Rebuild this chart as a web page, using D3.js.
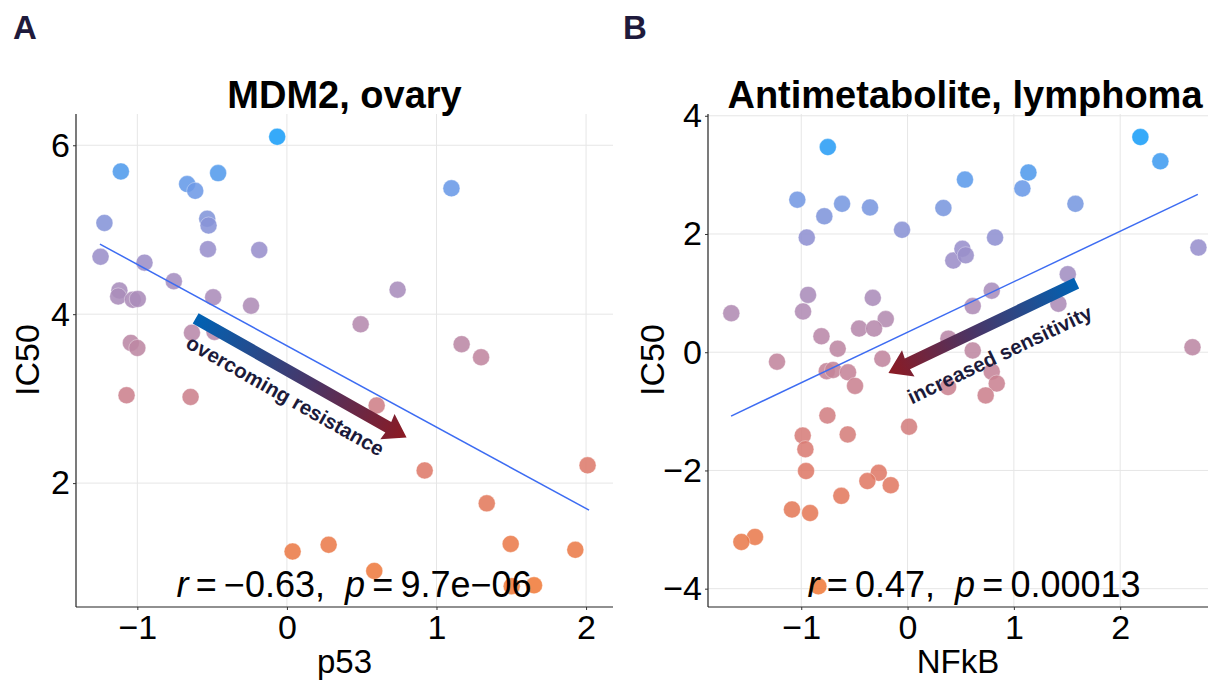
<!DOCTYPE html>
<html>
<head>
<meta charset="utf-8">
<script src="https://cdn.jsdelivr.net/npm/d3@7"></script>
<style>
  body { margin: 0; background: #fff; }
  svg { font-family: "Liberation Sans", Arial, Helvetica, sans-serif; }
</style>
</head>
<body>
<div id="chart"></div>
<script>
// ── Panel A: MDM2, ovary ───────────────────────────────
var p53 = [-0.065, -1.11, -0.46, -0.667, -0.613, -1.22, -0.533, -0.524, -0.528, -0.185,
  -1.246, -0.952, -0.756, -1.12, -1.128, -1.03, -0.997, -0.493, -0.24, -0.635,
  -0.484, -1.043, -1.0, -1.072, -0.644, 0.038, 0.279, 1.10, 0.74, 0.493,
  1.168, 1.298, 0.60, 0.921, 2.01, 1.336, 0.584, 1.496, 1.928, 1.503, 1.652];
var ic50A = [6.10, 5.69, 5.67, 5.54, 5.46, 5.08, 5.13, 5.05, 4.77, 4.76,
  4.68, 4.61, 4.39, 4.28, 4.21, 4.17, 4.18, 4.20, 4.10, 3.78,
  3.79, 3.66, 3.60, 3.04, 3.02, 1.19, 1.27, 5.49, 4.29, 3.88,
  3.645, 3.49, 2.92, 2.15, 2.21, 1.76, 0.96, 1.28, 1.21, 0.78, 0.79];
var fitA = [[-1.25, 4.83], [2.02, 1.68]];
var arrowA = [[-0.61, 3.95], [0.80, 2.54]];
var statsA = ["−0.63", "9.7e−06"];

// ── Panel B: Antimetabolite, lymphoma ─────────────────
var nfkb = [-0.75, -1.037, -0.616, -0.783, -0.353, 0.337, -0.948, -0.052, -1.658, -0.936,
  -0.983, -0.327, -0.205, -0.456, -0.315, -0.81, -0.657, 0.43, 0.516, 0.54,
  1.137, 1.08, 1.579, 2.19, 2.378, 0.823, 0.547, 2.736, 1.507, 0.792,
  0.613, 1.419, 0.384, 0.613, 2.68, -1.228, -0.76, -0.70, -0.56, -0.237,
  -0.494, -0.754, -0.563, 0.014, -0.986, -0.961, -0.955, -0.271, -0.378, -0.158,
  -0.623, -1.087, -0.917, -1.435, -1.563, -0.839, 0.381, 0.792, 0.839, 0.735];
var ic50B = [3.47, 2.58, 2.51, 2.30, 2.45, 2.44, 1.94, 2.07, 0.66, 0.97,
  0.69, 0.92, 0.56, 0.40, 0.40, 0.27, 0.06, 1.55, 1.75, 2.92,
  3.04, 2.77, 2.51, 3.64, 3.23, 1.94, 1.64, 1.77, 1.32, 1.04,
  0.78, 0.82, 0.23, 0.03, 0.085, -0.16, -0.32, -0.30, -0.34, -0.11,
  -0.57, -1.07, -1.39, -1.26, -1.41, -1.64, -2.01, -2.04, -2.18, -2.25,
  -2.43, -2.66, -2.72, -3.125, -3.21, -3.96, -0.59, -0.33, -0.53, -0.73];
var fitB = [[-1.66, -1.08], [2.73, 2.67]];
var arrowB = [[1.59, 1.17], [-0.18, -0.35]];
var statsB = ["0.47", "0.00013"];

var W = 1210, H = 680;
var svg = d3.select("#chart").append("svg").attr("width", W).attr("height", H);

// point colour: orange (low IC50) -> mauve -> blue (high IC50)
var colStops = [0, 0.25, 0.45, 0.6, 0.75, 0.88, 1];
var colVals = ["#f07b3a", "#df7a68", "#c98292", "#b28bb2", "#988fcc", "#6e9ae6", "#1a9ef8"];
var fmt = d3.format("d");

function drawPanel(cfg) {
  var g = svg.append("g");
  var x = d3.scaleLinear().domain(cfg.xDomain).range([cfg.left, cfg.right]);
  var y = d3.scaleLinear().domain(cfg.yDomain).range([cfg.bottom, cfg.top]);

  // panel letter + title
  svg.append("text").attr("x", cfg.letterX).attr("y", 39)
    .attr("font-size", 33).attr("font-weight", "bold").attr("fill", "#1e1a3c")
    .text(cfg.letter);
  svg.append("text").attr("x", (cfg.left + cfg.right) / 2 + cfg.titleShift).attr("y", 108)
    .attr("text-anchor", "middle").attr("font-size", 38).attr("font-weight", "bold")
    .attr("fill", "#000").text(cfg.title);

  // grid
  g.selectAll(".gx").data(cfg.xTicks).join("line")
    .attr("x1", function (d) { return x(d); }).attr("x2", function (d) { return x(d); })
    .attr("y1", cfg.top).attr("y2", cfg.bottom)
    .attr("stroke", "#e6e6e6").attr("stroke-width", 1);
  g.selectAll(".gy").data(cfg.yTicks).join("line")
    .attr("y1", function (d) { return y(d); }).attr("y2", function (d) { return y(d); })
    .attr("x1", cfg.left).attr("x2", cfg.right)
    .attr("stroke", "#e6e6e6").attr("stroke-width", 1);

  // axes
  var ax = g.append("g").attr("transform", "translate(0," + cfg.bottom + ")")
    .call(d3.axisBottom(x).tickValues(cfg.xTicks).tickFormat(fmt).tickSize(3).tickPadding(5).tickSizeOuter(0));
  var ay = g.append("g").attr("transform", "translate(" + cfg.left + ",0)")
    .call(d3.axisLeft(y).tickValues(cfg.yTicks).tickFormat(fmt).tickSize(3).tickPadding(3).tickSizeOuter(0));
  [ax, ay].forEach(function (a) {
    a.select(".domain").attr("stroke", "#222").attr("stroke-width", 1.2);
    a.selectAll(".tick line").attr("stroke", "#333");
    a.selectAll("text").attr("font-size", 34).attr("fill", "#000");
  });
  // axis line should span full panel
  ax.select(".domain").attr("d", "M" + cfg.left + ",0H" + cfg.right);
  ay.select(".domain").attr("d", "M0," + cfg.top + "V" + cfg.bottom);

  svg.append("text").attr("x", (cfg.left + cfg.right) / 2).attr("y", 673)
    .attr("text-anchor", "middle").attr("font-size", 33).text(cfg.xLabel);
  svg.append("text")
    .attr("transform", "translate(" + (cfg.left - 28 - cfg.yLabelGap) + ",360) rotate(-90)")
    .attr("text-anchor", "middle").attr("font-size", 34).text("IC50");

  // points
  var vals = cfg.ys;
  var lo = d3.min(vals), hi = d3.max(vals);
  var col = d3.scaleLinear().domain(colStops.map(function (t) { return lo + t * (hi - lo); }))
    .range(colVals).interpolate(d3.interpolateRgb);
  var pts = cfg.xs.map(function (v, i) { return { x: v, y: vals[i] }; });
  g.selectAll(".pt").data(pts).join("circle")
    .attr("cx", function (d) { return x(d.x); })
    .attr("cy", function (d) { return y(d.y); })
    .attr("r", 8.5)
    .attr("fill", function (d) { return col(d.y); })
    .attr("fill-opacity", 0.88)
    .attr("stroke", "#fff").attr("stroke-width", 0.6).attr("stroke-opacity", 0.6);

  // fitted line
  g.append("line")
    .attr("x1", x(cfg.fit[0][0])).attr("y1", y(cfg.fit[0][1]))
    .attr("x2", x(cfg.fit[1][0])).attr("y2", y(cfg.fit[1][1]))
    .attr("stroke", "#3d6cf2").attr("stroke-width", 1.5);

  // arrow with blue -> red gradient
  var sx = x(cfg.arrow[0][0]), sy = y(cfg.arrow[0][1]);
  var tx = x(cfg.arrow[1][0]), ty = y(cfg.arrow[1][1]);
  var len = Math.hypot(tx - sx, ty - sy);
  var ux = (tx - sx) / len, uy = (ty - sy) / len;
  var nx = -uy, ny = ux;
  var headL = 22, headW = 14.5, shaftW = 6;
  var bx = tx - ux * headL, by = ty - uy * headL;
  var gid = "grad" + cfg.letter;
  var grad = svg.append("defs").append("linearGradient").attr("id", gid)
    .attr("gradientUnits", "userSpaceOnUse")
    .attr("x1", sx).attr("y1", sy).attr("x2", tx).attr("y2", ty);
  grad.append("stop").attr("offset", 0).attr("stop-color", "#0062b4");
  grad.append("stop").attr("offset", 0.55).attr("stop-color", "#4a3566");
  grad.append("stop").attr("offset", 1).attr("stop-color", "#8c1a22");
  var pathD = "M" + (sx + nx * shaftW) + "," + (sy + ny * shaftW) +
    "L" + (bx + ux + nx * shaftW) + "," + (by + uy + ny * shaftW) +
    "L" + (bx + nx * headW) + "," + (by + ny * headW) +
    "L" + tx + "," + ty +
    "L" + (bx - nx * headW) + "," + (by - ny * headW) +
    "L" + (bx + ux - nx * shaftW) + "," + (by + uy - ny * shaftW) +
    "L" + (sx - nx * shaftW) + "," + (sy - ny * shaftW) + "Z";
  g.append("path").attr("d", pathD).attr("fill", "url(#" + gid + ")");

  // arrow label, rotated along the arrow, sitting below it
  var ang = Math.atan2(ty - sy, tx - sx) * 180 / Math.PI;
  if (ang > 90 || ang < -90) ang += 180;
  var tdx = Math.cos(ang * Math.PI / 180), tdy = Math.sin(ang * Math.PI / 180);
  var pnx = -tdy, pny = tdx;
  var mx = (sx + tx) / 2 + tdx * cfg.labAlong + pnx * cfg.labPerp;
  var my = (sy + ty) / 2 + tdy * cfg.labAlong + pny * cfg.labPerp;
  g.append("text").attr("transform", "translate(" + mx + "," + my + ") rotate(" + ang + ")")
    .attr("text-anchor", "middle").attr("dominant-baseline", "middle")
    .attr("font-size", 20.5).attr("font-weight", "bold").attr("fill", "#1b1a3a")
    .text(cfg.arrowLabel);

  // r / p annotation
  var st = g.append("text").attr("x", cfg.statX).attr("y", 597)
    .attr("text-anchor", "middle").attr("font-size", 36).attr("fill", "#000")
    .style("white-space", "pre");
  st.append("tspan").attr("font-style", "italic").text("r");
  st.append("tspan").text("\u2009=\u2009" + cfg.stats[0] + ",  ");
  st.append("tspan").attr("font-style", "italic").text("p");
  st.append("tspan").text("\u2009=\u2009" + cfg.stats[1]);
}

drawPanel({
  letter: "A", letterX: 13, title: "MDM2, ovary", titleShift: 0,
  left: 76, right: 613, top: 114, bottom: 607,
  xDomain: [-1.41, 2.18], yDomain: [0.533, 6.37],
  xTicks: [-1, 0, 1, 2], yTicks: [2, 4, 6],
  xLabel: "p53", yLabelGap: 9,
  xs: p53, ys: ic50A, fit: fitA, arrow: arrowA,
  arrowLabel: "overcoming resistance", labAlong: -5, labPerp: 25,
  stats: statsA, statX: 354
});

drawPanel({
  letter: "B", letterX: 623, title: "Antimetabolite, lymphoma", titleShift: 7,
  left: 708, right: 1208, top: 114, bottom: 607,
  xDomain: [-1.877, 2.826], yDomain: [-4.31, 4.03],
  xTicks: [-1, 0, 1, 2], yTicks: [-4, -2, 0, 2, 4],
  xLabel: "NFkB", yLabelGap: 16,
  xs: nfkb, ys: ic50B, fit: fitB, arrow: arrowB,
  arrowLabel: "increased sensitivity", labAlong: 4, labPerp: 33,
  stats: statsB, statX: 974
});
</script>
</body>
</html>
